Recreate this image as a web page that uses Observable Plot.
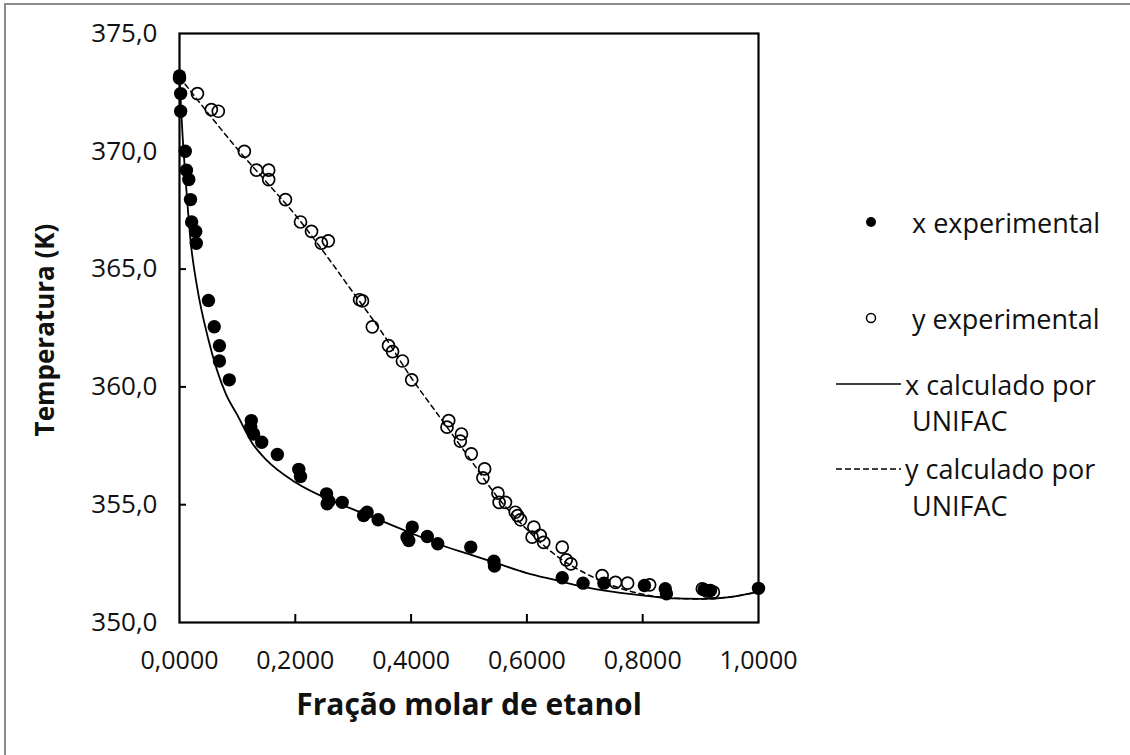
<!DOCTYPE html>
<html>
<head>
<meta charset="utf-8">
<script src="https://cdn.jsdelivr.net/npm/d3@7"></script>
<script src="https://cdn.jsdelivr.net/npm/@observablehq/plot@0.6"></script>
<style>
  html, body { margin: 0; padding: 0; background: #fff; }
  #wrap { position: relative; width: 1130px; height: 755px; overflow: hidden; }
  #border { position: absolute; left: 4px; top: 3px; width: 1200px; height: 800px; border-left: 2px solid #8c8c8c; border-top: 2px solid #8c8c8c; }
  #legend { position: absolute; left: 0; top: 0; }
  #legend text { font-family: "Open Sans", sans-serif; font-size: 27px; fill: #111; dominant-baseline: central; }
</style>
</head>
<body>
<div id="wrap">
  <div id="chart"></div>
  <div id="border"></div>
  <svg id="legend" width="1130" height="755"></svg>
</div>
<script>
// ---- data ----
const xTicks = [0, 0.2, 0.4, 0.6, 0.8, 1.0];
const yTicks = [350, 355, 360, 365, 370, 375];

// liquid (x) experimental: fraction, temperature
const xExpFrac = [0,0,0.002,0.002,0.010,0.012,0.016,0.019,0.021,0.028,0.029,0.050,0.060,0.069,0.069,0.086,0.124,0.123,0.128,0.142,0.169,0.206,0.209,0.254,0.255,0.258,0.281,0.318,0.324,0.343,0.393,0.396,0.402,0.428,0.446,0.503,0.543,0.544,0.661,0.697,0.733,0.803,0.839,0.841,0.906,0.917,1.0];
const xExpTemp = [373.2,373.1,372.45,371.7,370.0,369.2,368.8,367.95,367.0,366.6,366.1,363.67,362.55,361.75,361.1,360.3,358.57,358.29,358.0,357.65,357.13,356.5,356.2,355.46,355.04,355.15,355.1,354.54,354.68,354.36,353.62,353.48,354.05,353.65,353.34,353.2,352.6,352.4,351.9,351.67,351.67,351.57,351.43,351.22,351.39,351.36,351.45];

// vapour (y) experimental
const yExpFrac = [0.031,0.055,0.067,0.112,0.133,0.154,0.154,0.183,0.209,0.228,0.245,0.257,0.311,0.316,0.333,0.361,0.368,0.385,0.401,0.465,0.462,0.487,0.485,0.504,0.527,0.524,0.550,0.552,0.563,0.580,0.584,0.589,0.612,0.609,0.623,0.629,0.661,0.668,0.676,0.730,0.753,0.774,0.812,0.903,0.911,0.922];
const yExpTemp = [372.45,371.77,371.7,370.0,369.2,369.2,368.8,367.95,367.0,366.6,366.1,366.2,363.7,363.65,362.55,361.75,361.5,361.1,360.3,358.57,358.29,358.0,357.7,357.16,356.52,356.14,355.49,355.1,355.1,354.68,354.54,354.36,354.05,353.62,353.7,353.4,353.2,352.66,352.49,351.99,351.7,351.67,351.6,351.43,351.33,351.29];

// UNIFAC calculated curves
const xCalcFrac = [0,0.005,0.01,0.02,0.03,0.05,0.08,0.1,0.126,0.15,0.2,0.26,0.3,0.35,0.4,0.45,0.5,0.55,0.6,0.65,0.7,0.75,0.8,0.85,0.9,0.95,1.0];
const xCalcTemp = [373.15,370.8,369.0,366.0,364.3,362.0,359.7,358.8,357.6,356.9,355.95,355.2,354.8,354.3,353.8,353.3,352.9,352.5,352.1,351.8,351.5,351.3,351.15,351.02,351.0,351.08,351.3];
const yCalcFrac = [0,0.05,0.1,0.15,0.2,0.25,0.3,0.35,0.4,0.45,0.5,0.55,0.6,0.65,0.7,0.75,0.8,0.85,0.9,0.95,1.0];
const yCalcTemp = [373.15,371.6,370.1,368.7,367.3,365.7,364.0,362.3,360.4,358.7,357.0,355.3,353.95,352.85,352.1,351.55,351.2,351.03,351.0,351.08,351.3];

const xLabel = "Fração molar de etanol";
const yLabel = "Temperatura (K)";
const legendItems = ["x experimental", "y experimental", "x calculado por", "UNIFAC", "y calculado por", "UNIFAC"];

const toRows = (fx, fy) => fx.map((v, i) => ({f: v, t: fy[i]}));
const xExp = toRows(xExpFrac, xExpTemp);
const yExp = toRows(yExpFrac, yExpTemp);
const xCalc = toRows(xCalcFrac, xCalcTemp);
const yCalc = toRows(yCalcFrac, yCalcTemp);

const W = 1130, H = 755;
const mL = 179, mR = 372, mT = 33, mB = 133;
const innerW = W - mL - mR, innerH = H - mT - mB;
const comma = (v, n) => v.toFixed(n).replace(".", ",");

const chart = Plot.plot({
  width: W, height: H,
  marginLeft: mL, marginRight: mR, marginTop: mT, marginBottom: mB,
  style: {fontFamily: "'Open Sans', sans-serif", background: "white", color: "#111"},
  x: {domain: [0, 1]},
  y: {domain: [350, 375]},
  marks: [
    Plot.axisX(xTicks, {tickSize: 0, tickPadding: 29, fontSize: 25, tickFormat: d => comma(d, 4), label: null}),
    Plot.axisY(yTicks, {tickSize: 0, tickPadding: 22, fontSize: 26, tickFormat: d => comma(d, 1), label: null}),
    Plot.tickX(xTicks.slice(1, -1), {x: d => d, insetTop: innerH - 8, stroke: "black", strokeWidth: 2}),
    Plot.tickY(yTicks.slice(1, -1), {y: d => d, insetRight: innerW - 7, stroke: "black", strokeWidth: 2}),
    Plot.line(yCalc, {x: "f", y: "t", stroke: "black", strokeWidth: 1.5, strokeDasharray: "5,4", curve: "monotone-x"}),
    Plot.line(xCalc, {x: "f", y: "t", stroke: "black", strokeWidth: 1.8, curve: "monotone-x"}),
    Plot.dot(yExp, {x: "f", y: "t", r: 6, stroke: "black", strokeWidth: 1.7, fill: "none"}),
    Plot.dot(xExp, {x: "f", y: "t", r: 6.7, fill: "black", stroke: "none"}),
    Plot.frame({stroke: "black", strokeWidth: 2.2}),
    Plot.text([xLabel], {frameAnchor: "bottom", dy: 83, text: d => d, fontSize: 30, fontWeight: "bold", lineAnchor: "middle"}),
    Plot.text([yLabel], {frameAnchor: "left", textAnchor: "middle", dx: -134, dy: 2, rotate: -90, text: d => d, fontSize: 26, fontWeight: "bold", lineAnchor: "middle"})
  ]
});
document.getElementById("chart").appendChild(chart);

// ---- legend ----
const lg = d3.select("#legend");
lg.append("circle").attr("cx", 871).attr("cy", 222).attr("r", 5).attr("fill", "black");
lg.append("circle").attr("cx", 871).attr("cy", 318).attr("r", 4.5).attr("fill", "none").attr("stroke", "black").attr("stroke-width", 1.5);
lg.append("line").attr("x1", 836).attr("x2", 901).attr("y1", 384).attr("y2", 384).attr("stroke", "black").attr("stroke-width", 1.6);
lg.append("line").attr("x1", 836).attr("x2", 901).attr("y1", 469).attr("y2", 469).attr("stroke", "black").attr("stroke-width", 1.5).attr("stroke-dasharray", "6,3");
const pos = [[912, 222], [912, 318], [905, 384], [912, 420], [905, 468], [912, 505]];
legendItems.forEach((t, i) => lg.append("text").attr("x", pos[i][0]).attr("y", pos[i][1]).text(t));
</script>
</body>
</html>
